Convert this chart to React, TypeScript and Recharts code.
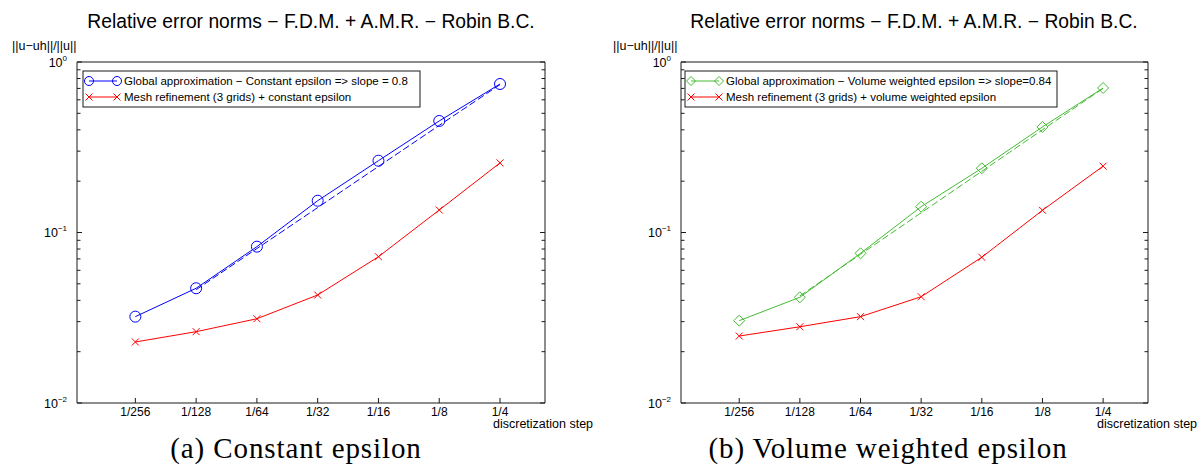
import React from 'react'
import { LineChart, Line, XAxis, YAxis } from 'recharts'

// log2 of the discretization step, and the labels shown under the axis
const steps = [-8, -7, -6, -5, -4, -3, -2]
const stepLabels = ['1/256', '1/128', '1/64', '1/32', '1/16', '1/8', '1/4']

// (a) constant epsilon
const globalConstant = [0.0321, 0.0471, 0.0826, 0.1536, 0.2637, 0.451, 0.743]
const meshConstant = [0.0228, 0.0262, 0.0312, 0.043, 0.0721, 0.1355, 0.256]
const fitConstant = [null, 0.0462, 0.0805, 0.14, 0.244, 0.425, 0.737]

// (b) volume weighted epsilon
const globalVolume = [0.0304, 0.0417, 0.0755, 0.1417, 0.238, 0.416, 0.704]
const meshVolume = [0.0247, 0.028, 0.0321, 0.042, 0.0716, 0.135, 0.245]
const fitVolume = [null, 0.0425, 0.0745, 0.1305, 0.2286, 0.4005, 0.7]

const yTicks = [
  0.01, 0.02, 0.03, 0.04, 0.05, 0.06, 0.07, 0.08, 0.09,
  0.1, 0.2, 0.3, 0.4, 0.5, 0.6, 0.7, 0.8, 0.9, 1,
]
const majorTicks = [0.01, 0.1, 1]
const xDomain = [-8.96, -1.26]

const SANS = '"Liberation Sans", Arial, Helvetica, sans-serif'
const SERIF = '"Liberation Serif", "Times New Roman", serif'
const AXIS = '#1a1a1a'
const BLUE = '#0000ff'
const RED = '#ff0000'
const GREEN = '#44bb33'

const isMajor = (v: number) => majorTicks.some((m) => Math.abs(m - v) < 1e-9)
const expo = (v: number) => {
  const e = Math.round(Math.log10(v))
  return e < 0 ? '\u2212' + Math.abs(e) : String(e)
}

const LeftTick = (props: any) => {
  const { x, y, payload } = props
  const major = isMajor(payload.value)
  return (
    <g>
      <line x1={x} x2={x + (major ? 5 : 3.5)} y1={y} y2={y} stroke={AXIS} />
      {major && (
        <text x={x - 10} y={y + 4.5} textAnchor="end" fontSize={12.5} fontFamily={SANS} fill="#000">
          10<tspan dy={-6} fontSize={8}>{expo(payload.value)}</tspan>
        </text>
      )}
    </g>
  )
}

const RightTick = (props: any) => {
  const { x, y, payload } = props
  const major = isMajor(payload.value)
  return <line x1={x} x2={x - (major ? 5 : 3.5)} y1={y} y2={y} stroke={AXIS} />
}

const BottomTick = (props: any) => {
  const { x, y, payload } = props
  const i = steps.indexOf(payload.value)
  return (
    <g>
      <line x1={x} x2={x} y1={y} y2={y - 5} stroke={AXIS} />
      <text x={x} y={y + 12.5} textAnchor="middle" fontSize={12} fontFamily={SANS} fill="#000">
        {stepLabels[i]}
      </text>
    </g>
  )
}

const TopTick = (props: any) => {
  const { x, y } = props
  return <line x1={x} x2={x} y1={y} y2={y + 5} stroke={AXIS} />
}

const circleDot = (color: string) => (p: any) =>
  p.cx == null || p.cy == null ? <g key={p.index} /> : (
    <circle key={p.index} cx={p.cx} cy={p.cy} r={5.5} fill="none" stroke={color} strokeWidth={1} />
  )

const diamondDot = (color: string) => (p: any) =>
  p.cx == null || p.cy == null ? <g key={p.index} /> : (
    <polygon
      key={p.index}
      points={`${p.cx},${p.cy - 5.5} ${p.cx + 5.5},${p.cy} ${p.cx},${p.cy + 5.5} ${p.cx - 5.5},${p.cy}`}
      fill="none"
      stroke={color}
      strokeWidth={1}
    />
  )

const crossDot = (color: string) => (p: any) =>
  p.cx == null || p.cy == null ? <g key={p.index} /> : (
    <path
      key={p.index}
      d={`M${p.cx - 3.5},${p.cy - 3.5}L${p.cx + 3.5},${p.cy + 3.5}M${p.cx - 3.5},${p.cy + 3.5}L${p.cx + 3.5},${p.cy - 3.5}`}
      stroke={color}
      strokeWidth={1}
    />
  )

type PanelProps = {
  left: number
  width: number
  plotLeft: number
  plotRight: number
  global: number[]
  mesh: number[]
  fit: (number | null)[]
  color: string
  marker: 'circle' | 'diamond'
}

const PLOT_TOP = 62
const PLOT_BOTTOM = 403
const HEIGHT = 474

function Panel({ left, width, plotLeft, plotRight, global, mesh, fit, color, marker }: PanelProps) {
  const data = steps.map((h, i) => ({ h, global: global[i], mesh: mesh[i], fit: fit[i] }))
  const dot = marker === 'circle' ? circleDot(color) : diamondDot(color)
  return (
    <div style={{ position: 'absolute', left, top: 0 }}>
      <LineChart width={width} height={HEIGHT} data={data} margin={{ top: 0, right: 0, bottom: 0, left: 0 }}>
        <XAxis
          dataKey="h"
          type="number"
          domain={xDomain}
          allowDataOverflow
          ticks={steps}
          interval={0}
          height={HEIGHT - PLOT_BOTTOM}
          tickSize={0}
          tickMargin={0}
          tickLine={false}
          axisLine={{ stroke: AXIS }}
          tick={BottomTick}
        />
        <XAxis
          xAxisId="top"
          orientation="top"
          type="number"
          domain={xDomain}
          allowDataOverflow
          ticks={steps}
          interval={0}
          height={PLOT_TOP}
          tickSize={0}
          tickMargin={0}
          tickLine={false}
          axisLine={{ stroke: AXIS }}
          tick={TopTick}
        />
        <YAxis
          type="number"
          scale="log"
          domain={[0.01, 1]}
          allowDataOverflow
          ticks={yTicks}
          interval={0}
          width={plotLeft}
          tickSize={0}
          tickMargin={0}
          tickLine={false}
          axisLine={{ stroke: AXIS }}
          tick={LeftTick}
        />
        <YAxis
          yAxisId="right"
          orientation="right"
          type="number"
          scale="log"
          domain={[0.01, 1]}
          allowDataOverflow
          ticks={yTicks}
          interval={0}
          width={width - plotRight}
          tickSize={0}
          tickMargin={0}
          tickLine={false}
          axisLine={{ stroke: AXIS }}
          tick={RightTick}
        />
        <Line
          type="linear"
          dataKey="fit"
          stroke={color}
          strokeWidth={1}
          strokeDasharray="7 3"
          dot={false}
          connectNulls
          isAnimationActive={false}
        />
        <Line type="linear" dataKey="global" stroke={color} strokeWidth={1} dot={dot} isAnimationActive={false} />
        <Line type="linear" dataKey="mesh" stroke={RED} strokeWidth={1} dot={crossDot(RED)} isAnimationActive={false} />
      </LineChart>
    </div>
  )
}

function LegendBox({ x, y, w, color, marker, labels }: any) {
  const rows = [
    { c: color, m: marker, t: labels[0], cy: y + 10 },
    { c: RED, m: 'cross', t: labels[1], cy: y + 26 },
  ]
  const mk = (m: string, c: string, cx: number, cy: number) => {
    if (m === 'circle') return <circle cx={cx} cy={cy} r={4.5} fill="none" stroke={c} />
    if (m === 'diamond')
      return <polygon points={`${cx},${cy - 4.5} ${cx + 4.5},${cy} ${cx},${cy + 4.5} ${cx - 4.5},${cy}`} fill="none" stroke={c} />
    return <path d={`M${cx - 3.5},${cy - 3.5}L${cx + 3.5},${cy + 3.5}M${cx - 3.5},${cy + 3.5}L${cx + 3.5},${cy - 3.5}`} stroke={c} />
  }
  return (
    <g>
      <rect x={x} y={y} width={w} height={36} fill="#fff" stroke={AXIS} />
      {rows.map((r, i) => (
        <g key={i}>
          <line x1={x + 6} x2={x + 34} y1={r.cy} y2={r.cy} stroke={r.c} />
          {mk(r.m, r.c, x + 6, r.cy)}
          {mk(r.m, r.c, x + 34, r.cy)}
          <text x={x + 41} y={r.cy + 4} fontSize={11.5} fontFamily={SANS} fill="#000">{r.t}</text>
        </g>
      ))}
    </g>
  )
}

const title = 'Relative error norms \u2212 F.D.M. + A.M.R. \u2212 Robin B.C.'
const yLabel = '||u\u2212uh||/||u||'

export default function App() {
  return (
    <div style={{ position: 'absolute', left: 0, top: 0, width: 1199, height: 474, background: '#fff', overflow: 'hidden' }}>
      <Panel
        left={0}
        width={600}
        plotLeft={77}
        plotRight={545}
        global={globalConstant}
        mesh={meshConstant}
        fit={fitConstant}
        color={BLUE}
        marker="circle"
      />
      <Panel
        left={600}
        width={599}
        plotLeft={81}
        plotRight={548}
        global={globalVolume}
        mesh={meshVolume}
        fit={fitVolume}
        color={GREEN}
        marker="diamond"
      />
      <svg width={1199} height={474} style={{ position: 'absolute', left: 0, top: 0, pointerEvents: 'none' }}>
        <text x={311} y={28} textAnchor="middle" fontSize={19.3} fontFamily={SANS}>{title}</text>
        <text x={914} y={28} textAnchor="middle" fontSize={19.3} fontFamily={SANS}>{title}</text>
        <text x={12} y={50} fontSize={12.5} fontFamily={SANS}>{yLabel}</text>
        <text x={613} y={50} fontSize={12.5} fontFamily={SANS}>{yLabel}</text>
        <text x={493} y={428} fontSize={12.5} fontFamily={SANS}>discretization step</text>
        <text x={1097} y={428} fontSize={12.5} fontFamily={SANS}>discretization step</text>
        <LegendBox
          x={83}
          y={71}
          w={337}
          color={BLUE}
          marker="circle"
          labels={['Global approximation \u2212 Constant epsilon => slope = 0.8', 'Mesh refinement (3 grids) + constant epsilon']}
        />
        <LegendBox
          x={685}
          y={71}
          w={372}
          color={GREEN}
          marker="diamond"
          labels={['Global approximation \u2212 Volume weighted epsilon => slope=0.84', 'Mesh refinement (3 grids) + volume weighted epsilon']}
        />
        <text x={296} y={458} textAnchor="middle" fontSize={29} letterSpacing={0.9} fontFamily={SERIF}>(a) Constant epsilon</text>
        <text x={888} y={458} textAnchor="middle" fontSize={29} letterSpacing={0.9} fontFamily={SERIF}>(b) Volume weighted epsilon</text>
      </svg>
    </div>
  )
}
